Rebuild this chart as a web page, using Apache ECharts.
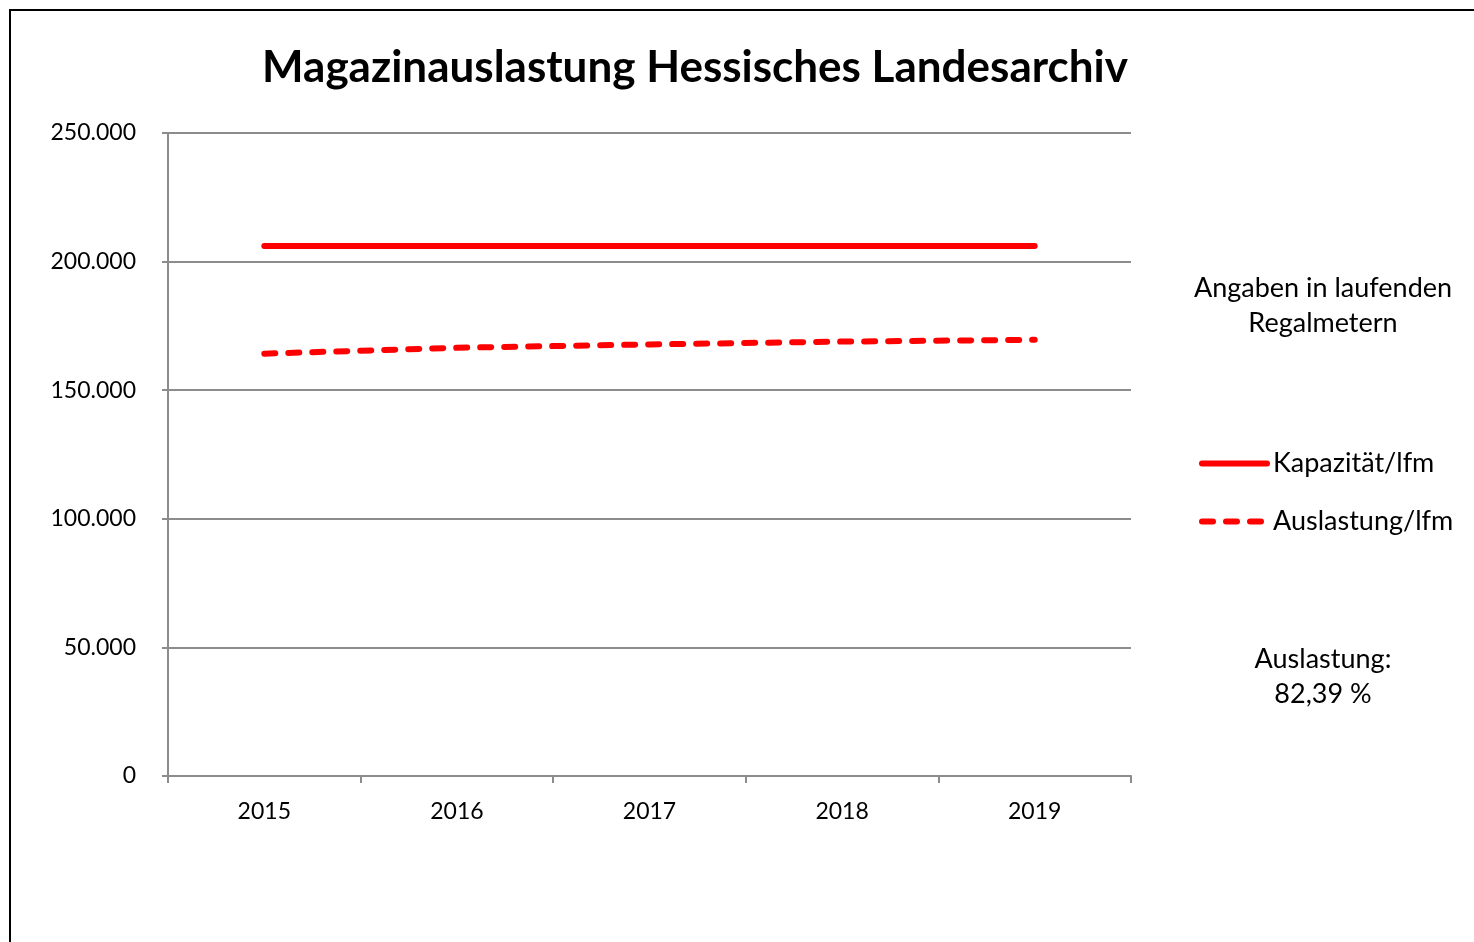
<!DOCTYPE html>
<html>
<head>
<meta charset="utf-8">
<script src="https://cdn.jsdelivr.net/npm/echarts@6/dist/echarts.min.js"></script>
<style>
	html, body { margin: 0; padding: 0; background: #fff; }
	#main { width: 1474px; height: 942px; }
</style>
</head>
<body>
<div id="main"></div>
<script>
	// Daten (laufende Regalmeter)
	var jahre = ['2015', '2016', '2017', '2018', '2019'];
	var kapazitaet = [206100, 206100, 206100, 206100, 206100];
	var auslastung = [164200, 166500, 167800, 168900, 169600];
	var yTicks = [0, 50000, 100000, 150000, 200000, 250000];

	var schrift = 'Lato, "Open Sans", sans-serif';
	var grau = '#8c8c8c';
	var rot = '#ff0000';

	function fmt(v) {
		return String(v).replace(/\B(?=(\d{3})+(?!\d))/g, '.');
	}

	var chart = echarts.init(document.getElementById('main'));
	chart.setOption({
		backgroundColor: '#fff',
		animation: false,
		title: {
			text: 'Magazinauslastung Hessisches Landesarchiv',
			left: 690,
			textAlign: 'center',
			top: 41,
			textStyle: { fontFamily: schrift, fontSize: 44, fontWeight: 'bold', color: '#000' }
		},
		graphic: [
			{
				type: 'rect',
				shape: { x: 10, y: 10, width: 1480, height: 950 },
				style: { fill: 'none', stroke: '#000', lineWidth: 2 }
			},
			{
				type: 'text',
				x: 1323,
				y: 271,
				style: {
					text: 'Angaben in laufenden\nRegalmetern',
					align: 'center',
					font: '27px ' + schrift,
					lineHeight: 35,
					fill: '#000'
				}
			},
			{
				type: 'text',
				x: 1323,
				y: 642,
				style: {
					text: 'Auslastung:\n82,39 %',
					align: 'center',
					font: '27px ' + schrift,
					lineHeight: 35,
					fill: '#000'
				}
			}
		],
		legend: {
			orient: 'vertical',
			left: 1199,
			top: 450,
			padding: 0,
			itemWidth: 65,
			itemHeight: 26,
			itemGap: 31,
			itemStyle: { opacity: 0 },
			textStyle: { fontFamily: schrift, fontSize: 27, color: '#000', padding: [0, 0, 0, 1] },
			data: [
				{ name: 'Kapazität/lfm', lineStyle: { color: rot, width: 6, cap: 'round' } },
				{ name: 'Auslastung/lfm', lineStyle: { color: rot, width: 6, type: [11, 13], cap: 'round' } }
			]
		},
		grid: { left: 168, right: 343, top: 133, bottom: 166 },
		xAxis: {
			type: 'category',
			data: jahre,
			boundaryGap: true,
			axisLine: { lineStyle: { color: grau, width: 2 } },
			axisTick: { show: true, length: 7, lineStyle: { color: grau, width: 2 } },
			axisLabel: { margin: 24, fontFamily: schrift, fontSize: 23, color: '#000' }
		},
		yAxis: {
			type: 'value',
			min: yTicks[0],
			max: yTicks[yTicks.length - 1],
			interval: 50000,
			axisLine: { show: true, lineStyle: { color: grau, width: 2 } },
			axisTick: { show: true, length: 6, lineStyle: { color: grau, width: 2 } },
			splitLine: { lineStyle: { color: grau, width: 2 } },
			axisLabel: { margin: 32, fontFamily: schrift, fontSize: 23, color: '#000', formatter: fmt }
		},
		series: [
			{
				name: 'Kapazität/lfm',
				type: 'line',
				data: kapazitaet,
				symbol: 'none',
				color: rot,
				lineStyle: { color: rot, width: 6, cap: 'round' }
			},
			{
				name: 'Auslastung/lfm',
				type: 'line',
				data: auslastung,
				symbol: 'none',
				color: rot,
				lineStyle: { color: rot, width: 6, type: [11, 13], cap: 'round' }
			}
		]
	});
</script>
</body>
</html>
